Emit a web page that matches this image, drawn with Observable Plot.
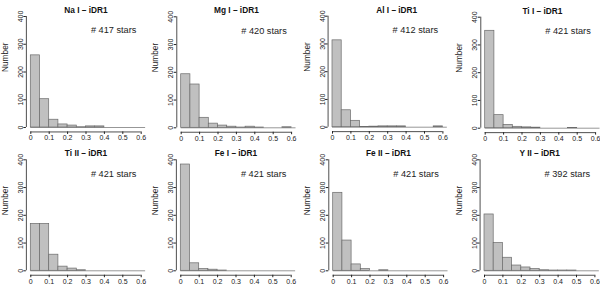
<!DOCTYPE html>
<html><head><meta charset="utf-8">
<script src="https://cdn.jsdelivr.net/npm/d3@7"></script>
<script src="https://cdn.jsdelivr.net/npm/@observablehq/plot@0.6"></script>
<style>
body{margin:0;background:#fff}
#wrap{position:relative;width:600px;height:285px;overflow:hidden;background:#fff}
#wrap svg{position:absolute;overflow:visible}
</style></head><body><div id="wrap"></div>
<script>
// ---- data ----
const species = ["Na I", "Mg I", "Al I", "Ti I", "Ti II", "Fe I", "Fe II", "Y II"];
const release = "iDR1";
const nStars = [417, 420, 412, 421, 421, 421, 421, 392];
const binWidth = 0.05;
const countsNaI  = [260, 102, 28, 11, 7, 1, 4, 4, 0, 0, 0, 0, 0];
const countsMgI  = [193, 156, 36, 15, 8, 4, 1, 4, 1, 0, 0, 2, 0];
const countsAlI  = [313, 61, 23, 1, 2, 3, 3, 3, 0, 0, 0, 3, 0];
const countsTiI  = [351, 47, 12, 5, 3, 2, 0, 0, 0, 1, 0, 0, 0];
const countsTiII = [169, 169, 58, 15, 8, 2, 0, 0, 0, 0, 0, 0, 0];
const countsFeI  = [383, 27, 6, 4, 1, 0, 0, 0, 0, 0, 0, 0, 0];
const countsFeII = [281, 109, 23, 6, 0, 2, 0, 0, 0, 0, 0, 0, 0];
const countsYII  = [203, 100, 47, 19, 12, 6, 2, 1, 1, 1, 0, 0, 0];
const xTicks = [0, 0.1, 0.2, 0.3, 0.4, 0.5, 0.6];
const yTicks = [0, 100, 200, 300, 400];
const xlim = [0, 0.6];
const ylim = [0, 400];

// ---- layout ----
const allCounts = [countsNaI, countsMgI, countsAlI, countsTiI, countsTiII, countsFeI, countsFeII, countsYII];
const panelX0 = [30.3, 180.7, 332, 484.7, 30.3, 180.3, 332.7, 484];   // pixel of x = 0
const panelY0 = [127, 127.3, 126.7, 127.7, 270.3, 270.3, 270.3, 270.3]; // pixel of y = 0
const titleShift = [0, 0, 9, 2, 0, 0, 0, 0];
const pxX = 184, pxY = 111 / 400;
const ext = 0.04;
const xLo = xlim[0] - ext * (xlim[1] - xlim[0]), xHi = xlim[1] + ext * (xlim[1] - xlim[0]);
const yLo = ylim[0] - ext * (ylim[1] - ylim[0]), yHi = ylim[1] + ext * (ylim[1] - ylim[0]);
const W = 160, H = 152;
const font = "'Liberation Sans', Arial, Helvetica, sans-serif";
const wrap = document.getElementById("wrap");

species.forEach((sp, i) => {
  const col = i % 4, row = Math.floor(i / 4);
  const left = col * 150, top = row * 142;
  const ml = panelX0[i] - left + xLo * pxX;
  const fw = (xHi - xLo) * pxX;
  const mr = W - ml - fw;
  const mt = panelY0[i] - top - yHi * pxY;
  const fh = (yHi - yLo) * pxY;
  const mb = H - mt - fh;
  const counts = allCounts[i];
  const bins = counts.map((c, j) => ({x1: j * binWidth, x2: (j + 1) * binWidth, count: c}));
  const chart = Plot.plot({
    width: W, height: H,
    marginLeft: ml, marginRight: mr, marginTop: mt, marginBottom: mb,
    x: {domain: [xLo, xHi]},
    y: {domain: [yLo, yHi]},
    style: {fontFamily: font, fontSize: "7px", color: "#222", background: "transparent", overflow: "visible"},
    marks: [
      Plot.rectY(bins.filter(d => d.count > 0), {x1: "x1", x2: "x2", y1: 0, y2: "count", fill: "#c0c0c0", stroke: "#6a6a6a", strokeWidth: 0.7, inset: 0, clip: true}),
      Plot.ruleY([0], {x1: 0, x2: counts.length * binWidth, stroke: "#6a6a6a", strokeWidth: 0.7, clip: true}),
      Plot.ruleX([xLo], {y1: ylim[0], y2: ylim[1], stroke: "#222", strokeWidth: 0.8}),
      Plot.ruleY([yLo], {x1: xlim[0], x2: xlim[1], stroke: "#222", strokeWidth: 0.8}),
      Plot.axisX({ticks: xTicks, tickSize: 2.5, tickPadding: 1, tickFormat: d => d === 0 ? "0" : d3.format(".1f")(d), label: null, stroke: "#222"}),
      Plot.axisY({ticks: yTicks, tickSize: 2.5, tickPadding: 1, tickRotate: -90, label: null, stroke: "#222"}),
      Plot.text(["Number"], {frameAnchor: "left", rotate: -90, dx: -21, fontSize: 8.3, fill: "#222"}),
      Plot.text([`# ${nStars[i]} stars`], {x: 0.45, y: 350, fontSize: 9.2, fill: "#222"}),
      Plot.text([`${sp} – ${release}`], {frameAnchor: "top", dy: -4.8, dx: titleShift[i], fontSize: 8.3, fontWeight: "bold", fill: "#111"})
    ]
  });
  chart.style.left = left + "px";
  chart.style.top = top + "px";
  wrap.appendChild(chart);
});
</script>
</body></html>
